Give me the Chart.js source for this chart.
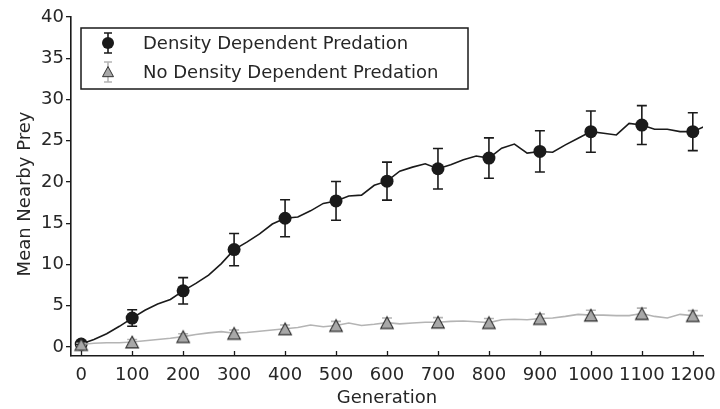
<!DOCTYPE html>
<html>
<head>
<meta charset="utf-8">
<script src="https://cdn.jsdelivr.net/npm/chart.js@4/dist/chart.umd.min.js"></script>
<style>
  body { margin: 0; background: #fff; }
  #wrap { width: 720px; height: 409px; }
</style>
</head>
<body>
<div id="wrap"><canvas id="chart" width="720" height="409"></canvas></div>
<script>
// generations sampled by the lines (every 25)
const lineGens = [0,25,50,75,100,125,150,175,200,225,250,275,300,325,350,375,400,425,450,475,500,525,550,575,600,625,650,675,700,725,750,775,800,825,850,875,900,925,950,975,1000,1025,1050,1075,1100,1125,1150,1175,1200,1225];
const ddLine = [0.35,0.9,1.6,2.5,3.5,4.45,5.2,5.75,6.8,7.7,8.7,10.1,11.8,12.7,13.7,14.9,15.6,15.75,16.5,17.4,17.7,18.3,18.4,19.6,20.1,21.3,21.8,22.2,21.6,22.1,22.7,23.15,22.9,24.1,24.6,23.5,23.7,23.6,24.5,25.3,26.1,25.9,25.7,27.1,26.9,26.4,26.4,26.1,26.1,26.8];
const noDdLine = [0.3,0.45,0.5,0.5,0.6,0.75,0.9,1.05,1.25,1.5,1.7,1.85,1.65,1.75,1.9,2.05,2.2,2.35,2.65,2.45,2.6,2.9,2.6,2.75,2.95,2.8,2.9,3.0,3.0,3.1,3.15,3.05,2.95,3.3,3.35,3.3,3.45,3.5,3.7,3.95,3.85,3.85,3.8,3.8,4.05,3.7,3.5,3.95,3.8,3.8];

// marker points with error bars (every 100)
const markGens = [0,100,200,300,400,500,600,700,800,900,1000,1100,1200];
const ddMean = [0.35,3.5,6.8,11.8,15.6,17.7,20.1,21.6,22.9,23.7,26.1,26.9,26.1];
const ddErr = [0.3,1.0,1.6,1.95,2.25,2.35,2.3,2.45,2.45,2.5,2.5,2.35,2.3];
const noDdMean = [0.3,0.6,1.25,1.65,2.2,2.6,2.95,3.0,2.95,3.45,3.85,4.05,3.8];
const noDdErr = [0.15,0.3,0.35,0.4,0.45,0.5,0.55,0.55,0.5,0.55,0.6,0.65,0.6];

const xTicks = [0,100,200,300,400,500,600,700,800,900,1000,1100,1200];
const yTicks = [0,5,10,15,20,25,30,35,40];
const legendLabels = ['Density Dependent Predation', 'No Density Dependent Predation'];
const xTitle = 'Generation';
const yTitle = 'Mean Nearby Prey';

const FONT = 'DejaVu Sans';
const INK = '#262626';
const DARK = '#1a1a1a';
const LIGHT = '#b4b4b4';

const pts = (xs, ys) => xs.map((x, i) => ({ x: x, y: ys[i] }));

// error bars drawn just before their marker dataset
const errorBars = {
    id: 'errorBars',
    beforeDatasetDraw(chart, args) {
        const ds = chart.data.datasets[args.index];
        if (!ds.errors) return;
        const { ctx, scales: { x, y } } = chart;
        ctx.save();
        ctx.strokeStyle = ds.errColor;
        ctx.lineWidth = 1.6;
        ds.data.forEach((p, i) => {
            const px = x.getPixelForValue(p.x);
            const top = y.getPixelForValue(p.y + ds.errors[i]);
            const bot = y.getPixelForValue(p.y - ds.errors[i]);
            ctx.beginPath();
            ctx.moveTo(px, top); ctx.lineTo(px, bot);
            ctx.moveTo(px - 5, top); ctx.lineTo(px + 5, top);
            ctx.moveTo(px - 5, bot); ctx.lineTo(px + 5, bot);
            ctx.stroke();
        });
        ctx.restore();
    }
};

// x ticks point inward, matplotlib style; axis titles drawn by hand for placement
const innerTicks = {
    id: 'innerTicks',
    beforeDatasetsDraw(chart) {
        const { ctx, chartArea, scales: { x } } = chart;
        ctx.save();
        ctx.strokeStyle = DARK;
        ctx.lineWidth = 1.3;
        xTicks.forEach(v => {
            const px = Math.round(x.getPixelForValue(v)) + 0.5;
            ctx.beginPath();
            ctx.moveTo(px, chartArea.bottom);
            ctx.lineTo(px, chartArea.bottom - 5);
            ctx.stroke();
        });
        ctx.fillStyle = INK;
        ctx.font = '18px "' + FONT + '"';
        ctx.textAlign = 'center';
        ctx.textBaseline = 'middle';
        ctx.fillText(xTitle, (chartArea.left + chartArea.right) / 2, 398);
        ctx.translate(25, 194);
        ctx.rotate(-Math.PI / 2);
        ctx.fillText(yTitle, 0, 0);
        ctx.restore();
    }
};

function drawTriangle(ctx, cx, cy, r) {
    ctx.beginPath();
    ctx.moveTo(cx, cy - r);
    ctx.lineTo(cx - r, cy + r * 0.85);
    ctx.lineTo(cx + r, cy + r * 0.85);
    ctx.closePath();
    ctx.fill(); ctx.stroke();
}

// boxed legend with errorbar symbols
const boxLegend = {
    id: 'boxLegend',
    afterDraw(chart) {
        const ctx = chart.ctx;
        ctx.save();
        ctx.fillStyle = '#fff';
        ctx.fillRect(81, 28, 387, 61);
        ctx.strokeStyle = DARK;
        ctx.lineWidth = 1.5;
        ctx.strokeRect(81, 28, 387, 61);

        const sx = 108, rows = [43, 72];
        // row 1: circle + black bar
        ctx.strokeStyle = DARK; ctx.lineWidth = 1.6;
        ctx.beginPath();
        ctx.moveTo(sx, rows[0] - 10); ctx.lineTo(sx, rows[0] + 10);
        ctx.moveTo(sx - 4, rows[0] - 10); ctx.lineTo(sx + 4, rows[0] - 10);
        ctx.moveTo(sx - 4, rows[0] + 10); ctx.lineTo(sx + 4, rows[0] + 10);
        ctx.stroke();
        ctx.fillStyle = DARK;
        ctx.beginPath(); ctx.arc(sx, rows[0], 6, 0, Math.PI * 2); ctx.fill();
        // row 2: triangle + light bar
        ctx.strokeStyle = LIGHT;
        ctx.beginPath();
        ctx.moveTo(sx, rows[1] - 10); ctx.lineTo(sx, rows[1] + 10);
        ctx.moveTo(sx - 4, rows[1] - 10); ctx.lineTo(sx + 4, rows[1] - 10);
        ctx.moveTo(sx - 4, rows[1] + 10); ctx.lineTo(sx + 4, rows[1] + 10);
        ctx.stroke();
        ctx.fillStyle = '#a8a8a8'; ctx.strokeStyle = '#333'; ctx.lineWidth = 1;
        drawTriangle(ctx, sx, rows[1], 5.5);

        ctx.fillStyle = INK;
        ctx.font = '18px "' + FONT + '"';
        ctx.textBaseline = 'middle';
        ctx.fillText(legendLabels[0], 143, rows[0] + 1);
        ctx.fillText(legendLabels[1], 143, rows[1] + 1);
        ctx.restore();
    }
};

const triStyle = (() => {
    const c = document.createElement('canvas');
    c.width = 16; c.height = 16;
    const g = c.getContext('2d');
    g.fillStyle = '#a8a8a8'; g.strokeStyle = '#2a2a2a'; g.lineWidth = 1.1;
    drawTriangle(g, 8, 8.5, 6.3);
    return c;
})();

new Chart(document.getElementById('chart'), {
    type: 'scatter',
    data: {
        datasets: [
            { data: pts(markGens, noDdMean), errors: noDdErr, errColor: LIGHT,
              pointStyle: triStyle, pointRadius: 8, showLine: false },
            { data: pts(lineGens, noDdLine), showLine: true, borderColor: LIGHT,
              borderWidth: 1.6, pointRadius: 0, tension: 0 },
            { data: pts(markGens, ddMean), errors: ddErr, errColor: DARK,
              pointStyle: 'circle', pointRadius: 6.5, backgroundColor: DARK, borderWidth: 0, showLine: false },
            { data: pts(lineGens, ddLine), showLine: true, borderColor: DARK,
              borderWidth: 1.6, pointRadius: 0, tension: 0 }
        ]
    },
    options: {
        responsive: false,
        animation: false,
        events: [],
        layout: { padding: { top: 17, right: 17, left: 0, bottom: 0 } },
        plugins: { legend: { display: false }, tooltip: { enabled: false } },
        scales: {
            x: {
                type: 'linear', min: -20, max: 1220,
                afterBuildTicks: s => { s.ticks = xTicks.map(v => ({ value: v })); },
                afterFit: s => { s.height = 53; s.paddingLeft = 0; s.paddingRight = 0; },
                grid: { display: false },
                border: { display: true, color: DARK, width: 1.6 },
                ticks: { color: INK, font: { family: FONT, size: 18 }, padding: 1, maxRotation: 0, autoSkip: false,
                         callback: v => String(v) },
                title: { display: false }
            },
            y: {
                min: -1.1, max: 40,
                afterBuildTicks: s => { s.ticks = yTicks.map(v => ({ value: v })); },
                afterFit: s => { s.width = 71; s.paddingTop = 0; s.paddingBottom = 0; },
                grid: { display: true, drawOnChartArea: false, drawTicks: true, tickLength: 5, color: DARK, lineWidth: 1.3 },
                border: { display: true, color: DARK, width: 1.6 },
                ticks: { color: INK, font: { family: FONT, size: 18 }, padding: 2 },
                title: { display: false }
            }
        }
    },
    plugins: [errorBars, innerTicks, boxLegend]
});
</script>
</body>
</html>
